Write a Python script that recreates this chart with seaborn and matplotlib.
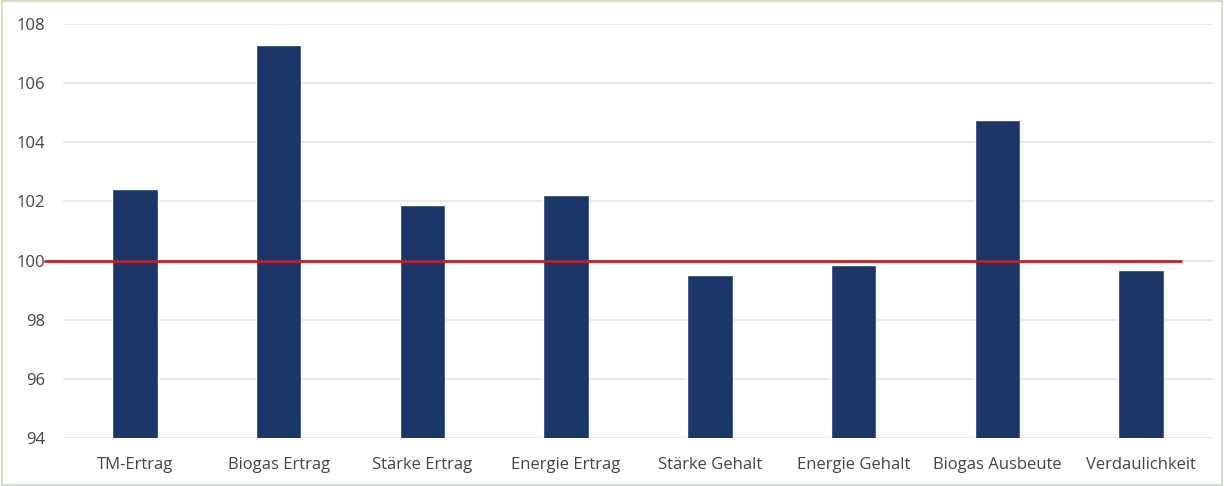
import pandas as pd
import matplotlib
matplotlib.use("Agg")
import matplotlib.pyplot as plt
import seaborn as sns
from matplotlib.patches import Rectangle

# Data (index, 100 = reference)
categories = ["TM-Ertrag", "Biogas Ertrag", "Stärke Ertrag", "Energie Ertrag",
              "Stärke Gehalt", "Energie Gehalt", "Biogas Ausbeute", "Verdaulichkeit"]
values = [102.42, 107.3, 101.88, 102.22, 99.52, 99.85, 104.75, 99.67]
reference_level = 100
y_ticks = [94, 96, 98, 100, 102, 104, 106, 108]

sns.set_theme(style="white")
plt.rcParams['font.family'] = ['Open Sans', 'DejaVu Sans']

bar_col = "#1b3668"
line_col = "#b5262a"
text_col = "#454545"
grid_col = "#e6e6e6"

df = pd.DataFrame({"Merkmal": categories, "Wert": values})

fig = plt.figure(figsize=(12.24, 4.86), dpi=100)
ax = fig.add_axes([0.0515, 0.0988, 0.9395, 0.8518])

sns.barplot(data=df, x="Merkmal", y="Wert", ax=ax, color=bar_col,
            width=0.315, saturation=1, bottom=0, zorder=2)

ax.set_ylim(94, 108)
ax.set_yticks(y_ticks)
ax.set_xlim(-0.5, len(categories) - 0.5)
ax.yaxis.grid(True, color=grid_col, linewidth=1.2, zorder=0)
ax.set_axisbelow(True)
for s in ax.spines.values():
    s.set_visible(False)

# reference line at 100
ax.plot([-0.625, 7.28], [reference_level, reference_level], color=line_col,
        linewidth=2, zorder=3, clip_on=False)

ax.set_xlabel("")
ax.set_ylabel("")
ax.tick_params(axis='x', length=0, pad=14, labelsize=12, labelcolor=text_col)
ax.tick_params(axis='y', length=0, pad=13, labelsize=12, labelcolor=text_col)

# outer chart border
fig.patches.append(Rectangle((0.002, 0.003), 0.996, 0.994, transform=fig.transFigure,
                             fill=False, edgecolor="#d5dfc3", linewidth=1.5))

fig.savefig("out.png", dpi=100)
